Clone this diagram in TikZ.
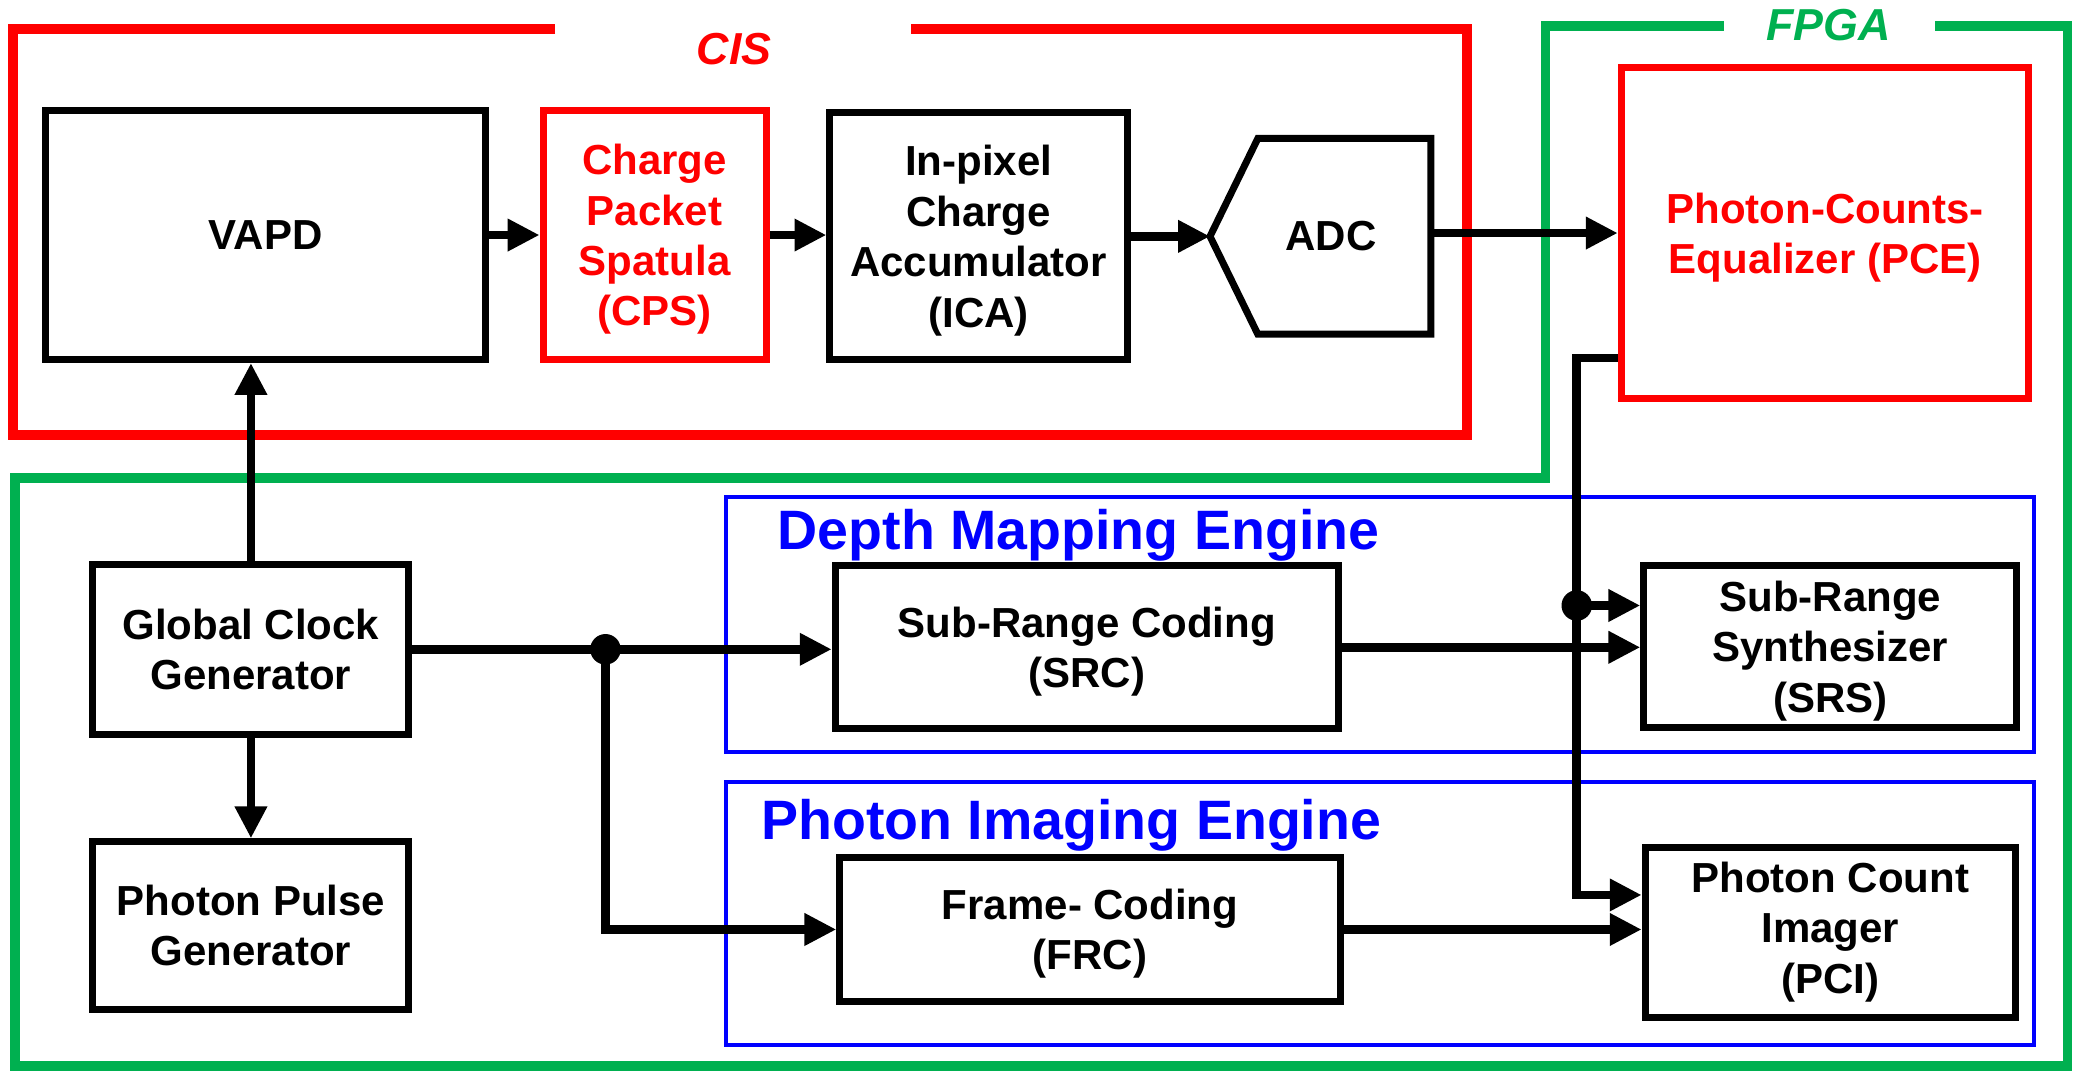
\documentclass[tikz,border=0pt]{standalone}
\usepackage{fontspec}
\setmainfont{Liberation Sans}
\usetikzlibrary{arrows.meta}
\definecolor{cisred}{HTML}{FF0000}
\definecolor{fpgagreen}{HTML}{00B050}
\definecolor{engblue}{HTML}{0000FF}

\begin{document}
\begin{tikzpicture}[x=.1mm,y=-.1mm,font=\fontsize{9}{10.8}\selectfont\bfseries,
  blk/.style={draw,line width=1.5pt,align=center,inner sep=1pt},
  redblk/.style={blk,draw=cisred,text=cisred},
  arr/.style={-{Triangle[length=2.4mm,width=2.3mm]},line width=1.9pt},
  zone/.style={line width=2.1pt},
  eng/.style={draw=engblue,line width=.85pt},
  head/.style={anchor=base west,inner sep=0pt,text=engblue,font=\fontsize{11.9}{14}\selectfont\bfseries},
  ttl/.style={font=\fontsize{9.6}{11}\selectfont\bfseries\itshape}]
\path[use as bounding box] (0,0) rectangle (1568,807);
% CIS and FPGA regions, each with a break in its top edge for the title.
\draw[zone,cisred] (418,22) -- (9.5,22) -- (9.5,327.5) -- (1105,327.5) -- (1105,22) -- (686,22);
\node[ttl,text=cisred] (cis) at (553,37) {CIS};
\draw[zone,fpgagreen] (1298,19.5) -- (1164,19.5) -- (1164,360) -- (11.5,360) -- (11.5,803)
  -- (1557,803) -- (1557,19.5) -- (1457,19.5);
\node[ttl,text=fpgagreen] (fpga) at (1377,18.5) {FPGA};

% The two engines are plain blue frames with a heading at the top left.
\draw[eng] (547,374) rectangle (1532,566);
\node[head] (dme) at (585,414) {Depth Mapping Engine};
\draw[eng] (547,589) rectangle (1532,787);
\node[head] (pie) at (572.5,632.6) {Photon Imaging Engine};

% Sensor chain on the CIS.
\node[blk,minimum width=3.32cm,minimum height=1.875cm] (VAPD) at (200,177) {VAPD};
\node[redblk,text depth=-1.5pt,minimum width=1.68cm,minimum height=1.875cm] (CPS) at (493,177) {Charge\\Packet\\Spatula\\(CPS)};
\node[blk,text depth=-1.5pt,minimum width=2.24cm,minimum height=1.86cm] (ICA) at (737,178) {In-pixel\\Charge\\Accumulator\\(ICA)};
\node[minimum width=1.65cm,minimum height=1.46cm] (ADC) at (994.5,178) {\hspace*{1.6mm}ADC};
\draw[line width=1.5pt] (ADC.west) -- ([xshift=3.6mm]ADC.north west) -- (ADC.north east)
  -- (ADC.south east) -- ([xshift=3.6mm]ADC.south west) -- cycle;
\node[redblk,text depth=-2.7pt,minimum width=3.07cm,minimum height=2.49cm] (PCE) at (1374.5,175.5) {Photon-Counts-\\Equalizer (PCE)};

% Blocks on the FPGA.
\node[blk,minimum width=2.38cm,minimum height=1.28cm] (GCG) at (189,489) {Global Clock\\Generator};
\node[blk,minimum width=2.38cm,minimum height=1.26cm] (PPG) at (189,697) {Photon Pulse\\Generator};
\node[blk,text depth=-.9pt,minimum width=3.79cm,minimum height=1.23cm] (SRC) at (818.5,487.5) {Sub-Range Coding\\(SRC)};
\node[blk,text depth=-.4pt,minimum width=3.77cm,minimum height=1.08cm] (FRC) at (821,700) {Frame- Coding\\(FRC)};
\node[blk,text depth=-1.5pt,minimum width=2.81cm,minimum height=1.22cm] (SRS) at (1378.5,487) {Sub-Range\\Synthesizer\\(SRS)};
\node[blk,minimum width=2.79cm,minimum height=1.28cm] (PCI) at (1378.5,702) {Photon Count\\Imager\\(PCI)};

% Branch points.
\coordinate (j1) at (456,489);
\coordinate (j2) at (1187.5,456);
\fill (j1) circle (1.15mm);
\fill (j2) circle (1.15mm);

\draw[arr] (VAPD.east) -- (CPS.west);
\draw[arr] (CPS.east) -- (CPS.east -| ICA.west);
\draw[arr] (ICA.east) -- (ADC.west);
\draw[arr] (ADC.east |- PCE.west) -- (PCE.west);
\draw[arr] (GCG.north) -- (GCG.north |- VAPD.south);
\draw[arr] (GCG.south) -- (PPG.north);
\draw[arr] (GCG.east) -- (GCG.east -| SRC.west);
\draw[arr] (j1) |- (FRC.west);
\draw[arr] (SRC.east) -- (SRC.east -| SRS.west);
\draw[arr] (FRC.east) -- (FRC.east -| PCI.west);
% The equalized counts feed both back-end blocks.
\draw[arr] ([yshift=3.3mm]PCE.south west) -| (j2) |- ([yshift=2.8mm]PCI.west);
\draw[arr] (j2) -- (j2 -| SRS.west);
\end{tikzpicture}
\end{document}
